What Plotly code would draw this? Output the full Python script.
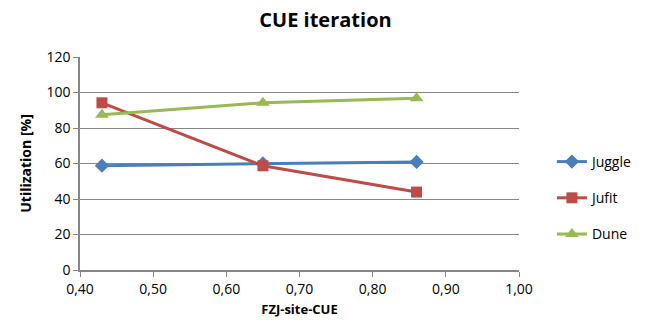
import plotly.graph_objects as go

x_vals = [0.43, 0.65, 0.86]
juggle = [58.8, 60.0, 60.9]
jufit = [94.2, 58.7, 43.9]
dune = [87.4, 94.2, 96.8]

font = "Open Sans, Liberation Sans, sans-serif"
fig = go.Figure()
fig.add_trace(go.Scatter(x=x_vals, y=juggle, name="Juggle", mode="lines+markers", legendgroup="a",
                         line=dict(color="#4A7EBB", width=3),
                         marker=dict(symbol="diamond", size=11, color="#4A7EBB")))
fig.add_trace(go.Scatter(x=x_vals, y=jufit, name="Jufit", mode="lines+markers", legendgroup="b",
                         line=dict(color="#BE4B48", width=3),
                         marker=dict(symbol="square", size=11, color="#BE4B48")))
fig.add_trace(go.Scatter(x=x_vals, y=dune, name="Dune", mode="lines+markers", legendgroup="c",
                         line=dict(color="#98B954", width=3),
                         marker=dict(symbol="triangle-up", size=12, color="#98B954")))

fig.update_layout(
    width=651, height=328,
    margin=dict(l=80, r=132, t=57, b=58, autoexpand=False),
    paper_bgcolor="white", plot_bgcolor="white",
    separators=",.",
    font=dict(family=font, size=14, color="black"),
    title=dict(text="<b>CUE iteration</b>", x=0.5, xref="container", y=0.94, yref="container",
               xanchor="center", yanchor="middle", font=dict(size=20)),
    xaxis=dict(range=[0.4, 1.0], dtick=0.1, tickformat=".2f", showgrid=False,
               showline=True, linecolor="#868686", linewidth=1.5,
               ticks="outside", ticklen=5, tickcolor="#868686",
               title=dict(text="<b>FZJ-site-CUE</b>", font=dict(size=13), standoff=8),
               zeroline=False),
    yaxis=dict(range=[0, 120], dtick=20, showgrid=True, gridcolor="#868686", gridwidth=1,
               showline=True, linecolor="#868686", linewidth=1.5,
               ticks="outside", ticklen=5, tickcolor="#868686",
               title=dict(text="<b>Utilization [%]</b>", font=dict(size=14), standoff=12),
               zeroline=False),
    legend=dict(x=1.075, y=0.338, xanchor="left", yanchor="middle", font=dict(size=14),
                tracegroupgap=15, itemwidth=30, bgcolor="rgba(0,0,0,0)"),
)
fig.write_html("out.html")
